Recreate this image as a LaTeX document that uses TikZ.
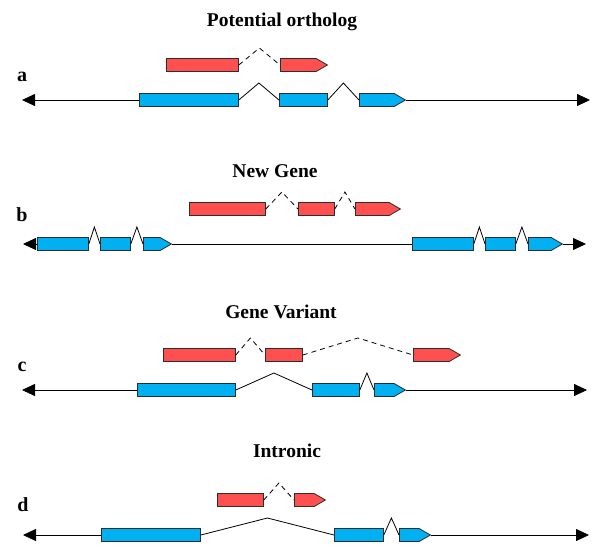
\documentclass[tikz,border=0pt]{standalone}
\usepackage{fontspec}
\setmainfont{Liberation Serif}
\usetikzlibrary{shapes.symbols,arrows.meta,calc}

\definecolor{exonred}{RGB}{255,80,80}
\definecolor{exonblue}{RGB}{0,176,240}
\definecolor{exonedge}{RGB}{45,45,45}

\tikzset{
  exon/.style={draw=exonedge,line width=0.8pt,minimum height=13pt,inner sep=0pt,anchor=west},
  redexon/.style={exon,fill=exonred},
  blueexon/.style={exon,fill=exonblue},
  lastexon/.style={shape=signal,signal to=east,signal pointer angle=60},
  intron/.style={to path={-- ($(\tikztostart)!.5!(\tikztotarget)+(0,-17)$) -- (\tikztotarget)}},
  strand/.style={line width=0.8pt},
  strandend/.style={strand,-{Triangle[length=13pt,width=12pt]}},
  title/.style={font=\bfseries\fontsize{19.5}{20}\selectfont,anchor=base},
  panel/.style={font=\bfseries\fontsize{20}{20}\selectfont,anchor=base}
}

\begin{document}
\begin{tikzpicture}[x=1pt,y=-1pt]
  \useasboundingbox (0,0) rectangle (600,558);

  % a: potential ortholog
  \node[title] (ta) at (282,26) {Potential ortholog};
  \node[panel] (pa) at (22,81) {a};
  \coordinate (la0) at (22,100);
  \coordinate (la1) at (590,100);
  \node[redexon,minimum width=72pt] (ra1) at (166,65) {};
  \node[redexon,lastexon,minimum width=47pt] (ra2) at (280,65) {};
  \node[blueexon,minimum width=99pt] (ba1) at (139,100) {};
  \node[blueexon,minimum width=48pt] (ba2) at (279,100) {};
  \node[blueexon,lastexon,minimum width=46pt] (ba3) at (359,100) {};
  \draw[strandend] (ba1.west) -- (la0);
  \draw[strandend] (ba3.east) -- (la1);

  % b: new gene
  \node[title] (tb) at (275,177) {New Gene};
  \node[panel] (pb) at (22,221) {b};
  \coordinate (lb0) at (23,244);
  \coordinate (lb1) at (586,244);
  \node[redexon,minimum width=76pt] (rb1) at (189,209) {};
  \node[redexon,minimum width=36pt] (rb2) at (298,209) {};
  \node[redexon,lastexon,minimum width=45pt] (rb3) at (355,209) {};
  \node[blueexon,minimum width=51pt] (bb1) at (37,244) {};
  \node[blueexon,minimum width=30pt] (bb2) at (100,244) {};
  \node[blueexon,lastexon,minimum width=28pt] (bb3) at (143,244) {};
  \node[blueexon,minimum width=61pt] (bb4) at (412,244) {};
  \node[blueexon,minimum width=30pt] (bb5) at (485,244) {};
  \node[blueexon,lastexon,minimum width=34pt] (bb6) at (528,244) {};
  \draw[strandend] (bb1.west) -- (lb0);
  \draw[strand] (bb3.east) -- (bb4.west);
  \draw[strandend] (bb6.east) -- (lb1);

  % c: gene variant
  \node[title] (tc) at (281,318) {Gene Variant};
  \node[panel] (pc) at (22,371) {c};
  \coordinate (lc0) at (22,390);
  \coordinate (lc1) at (587,390);
  \node[redexon,minimum width=72pt] (rc1) at (163,355) {};
  \node[redexon,minimum width=37pt] (rc2) at (265,355) {};
  \node[redexon,lastexon,minimum width=47pt] (rc3) at (413,355) {};
  \node[blueexon,minimum width=98pt] (bc1) at (137,390) {};
  \node[blueexon,minimum width=47pt] (bc2) at (312,390) {};
  \node[blueexon,lastexon,minimum width=31pt] (bc3) at (374,390) {};
  \draw[strandend] (bc1.west) -- (lc0);
  \draw[strandend] (bc3.east) -- (lc1);

  % d: intronic
  \node[title] (td) at (287,457) {Intronic};
  \node[panel] (pd) at (23,511) {d};
  \coordinate (ld0) at (23,535);
  \coordinate (ld1) at (589,535);
  \node[redexon,minimum width=46pt] (rd1) at (217,500) {};
  \node[redexon,lastexon,minimum width=31pt] (rd2) at (294,500) {};
  \node[blueexon,minimum width=99pt] (bd1) at (101,535) {};
  \node[blueexon,minimum width=49pt] (bd2) at (334,535) {};
  \node[blueexon,lastexon,minimum width=31pt] (bd3) at (399,535) {};
  \draw[strandend] (bd1.west) -- (ld0);
  \draw[strandend] (bd3.east) -- (ld1);

  \foreach \from/\to in {ba1/ba2,ba2/ba3,bb1/bb2,bb2/bb3,bb4/bb5,bb5/bb6,bc1/bc2,bc2/bc3,bd1/bd2,bd2/bd3}
    \draw[strand] (\from.east) to[intron] (\to.west);
  \foreach \from/\to in {ra1/ra2,rb1/rb2,rb2/rb3,rc1/rc2,rc2/rc3,rd1/rd2}
    \draw[strand,dash pattern=on 5pt off 4pt] (\from.east) to[intron] (\to.west);
\end{tikzpicture}
\end{document}
